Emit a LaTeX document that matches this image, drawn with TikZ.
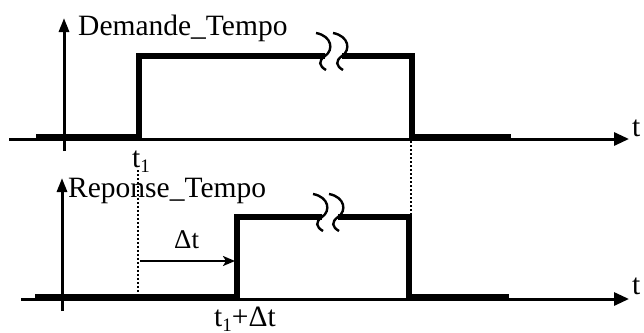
\documentclass[tikz,border=0pt]{standalone}
\usepackage{fontspec}
\setmainfont{Liberation Serif}
\usetikzlibrary{arrows.meta}
\newcommand{\lowone}{\raisebox{-5pt}{\fontsize{19}{19}\selectfont 1}}
\tikzset{
  axisline/.style={line width=3pt,-{Triangle[length=15pt,width=13pt]}},
  vaxis/.style={line width=3pt,-{Triangle[length=14pt,width=10pt]}},
  sig/.style={line width=6pt,line join=miter,line cap=butt},
  brkline/.style={line width=2.4pt},
  dotline/.style={line width=2pt,dash pattern=on 2pt off 2pt},
  lbl/.style={inner sep=0pt,font=\fontsize{29.5}{32}\selectfont},
  dtarrow/.style={line width=2.2pt,-{Stealth[length=12pt,width=10pt,inset=3pt]}},
  pics/brk/.style={code={
    \draw[brkline] (-9,-23) .. controls (7,-20) and (9,-6) .. (0,0)
      .. controls (-7,5) and (-6,10) .. (1,14);
  }}
}
\begin{document}
\begin{tikzpicture}[x=1pt,y=-1pt]
\useasboundingbox (0,0) rectangle (644,332);
% ---------- top chart ----------
\coordinate (ta0) at (9,139);
\coordinate (ta1) at (629,139);
\coordinate (tv0) at (64,151);
\coordinate (tv1) at (64,18);
\draw[axisline] (ta0) -- (ta1);
\draw[vaxis] (tv0) -- (tv1);
\node[lbl,anchor=base west] (tlab) at (78,35) {Demande\_Tempo};
\node[lbl,anchor=base west] (tt) at (632,136) {t};
\node[lbl,anchor=base west] (t1) at (132,167) {t\lowone};
\coordinate (s0) at (36,137);
\coordinate (s1) at (139,137);
\coordinate (s2) at (139,56);
\coordinate (s3) at (325,56);
\coordinate (s4) at (342,56);
\coordinate (s5) at (412,56);
\coordinate (s6) at (412,137);
\coordinate (s7) at (511,137);
\draw[sig] (s0) -- (s1) -- (s2) -- (s3);
\draw[sig] (s4) -- (s5) -- (s6) -- (s7);
\pic at (s3) {brk};
\pic at (s4) {brk};
% ---------- bottom chart ----------
\coordinate (ba0) at (21,299);
\coordinate (ba1) at (629,299);
\coordinate (bv0) at (62,311);
\coordinate (bv1) at (62,178);
\draw[axisline] (ba0) -- (ba1);
\draw[vaxis] (bv0) -- (bv1);
\node[lbl,anchor=base west] (blab) at (68,197) {Reponse\_Tempo};
\node[lbl,anchor=base west] (bt) at (632,294) {t};
\coordinate (r0) at (35,297);
\coordinate (r1) at (237,297);
\coordinate (r2) at (237,217);
\coordinate (r3) at (322,217);
\coordinate (r4) at (338,217);
\coordinate (r5) at (409,217);
\coordinate (r6) at (409,297);
\coordinate (r7) at (509,297);
\draw[sig] (r0) -- (r1) -- (r2) -- (r3);
\draw[sig] (r4) -- (r5) -- (r6) -- (r7);
\pic at (r3) {brk};
\pic at (r4) {brk};
% dotted guides
\coordinate (d1a) at (138,170);
\coordinate (d1b) at (138,297);
\draw[dotline] (d1a) -- (d1b);
\coordinate (d2a) at (411,141);
\coordinate (d2b) at (411,214);
\draw[dotline] (d2a) -- (d2b);
% delta t arrow
\coordinate (da) at (140,261);
\coordinate (db) at (235,261);
\draw[dtarrow] (da) -- (db);
\node[lbl,anchor=base west,font=\fontsize{27}{30}\selectfont] (dt) at (174,248) {Δt};
\node[lbl,anchor=base west] (t1dt) at (214,326) {t\lowone+Δt};
\end{tikzpicture}
\end{document}
